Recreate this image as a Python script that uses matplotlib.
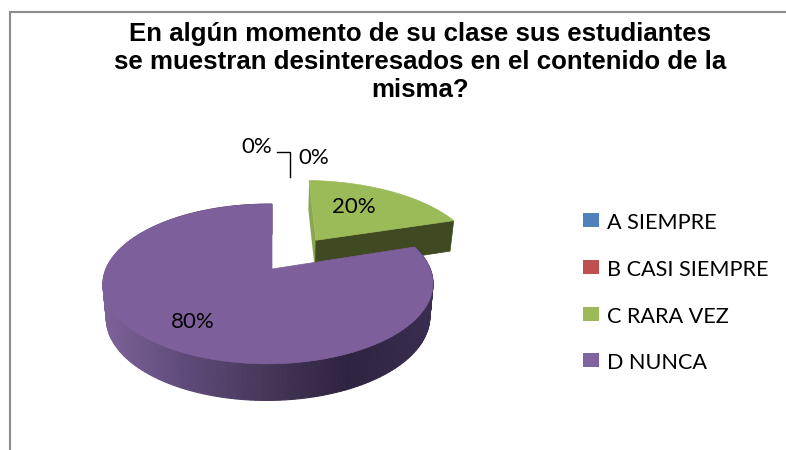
import numpy as np
import matplotlib
matplotlib.use('Agg')
import matplotlib.pyplot as plt
from matplotlib.colors import LinearSegmentedColormap
from matplotlib.patches import Polygon, Rectangle

# datos
categorias = ['A SIEMPRE', 'B CASI SIEMPRE', 'C RARA VEZ', 'D NUNCA']
valores = [0, 0, 20, 80]
etiquetas = ['0%', '0%', '20%', '80%']
separacion = [0, 0, 0.5, 0]
radios = [1, 1, 1.07, 1]
colores = ['#4F81BD', '#C0504D', '#9BBB59', '#8064A2']
titulo = 'En algún momento de su clase sus estudiantes\nse muestran desinteresados en el contenido de la\nmisma?'

# vista del pastel en perspectiva
cx, cy, B, A, k, m = 272, 269, 162, 77, 0.1875, 0.024
prof = 33


def proyecta(u, v, abajo=False):
    s = 1 / (1 + k * v + m * u)
    x = B * u * s
    y = -A * v * s
    if abajo:
        return cx + 0.98 * x, cy + y + prof * np.sqrt(s)
    return cx + x, cy + y


fig = plt.figure(figsize=(7.86, 4.5), dpi=100)
ax = fig.add_axes([0, 0, 1, 1])
ax.set_xlim(0, 786)
ax.set_ylim(450, 0)
ax.axis('off')

# marco del grafico
ax.plot([10, 10, 786], [450, 12, 12], color='#8c8c8c', lw=1.5, solid_joinstyle='miter')

fig.text(420 / 786, 1 - 62 / 450, titulo, ha='center', va='center', family='Liberation Sans',
         weight='bold', fontsize=18.6, linespacing=1.2, color='black')

degradado = LinearSegmentedColormap.from_list('lado', ['#7d6299', '#5f4b7a', '#463758', '#2e2340', '#3a2d50'])
lado_verde = '#3f4a22'
corte_verde = '#8aa64f'

inicio = 0
total = sum(valores)
for val, col, sep, r in zip(valores, colores, separacion, radios):
    if val == 0:
        continue
    fin = inicio + val / total * 2 * np.pi
    medio = (inicio + fin) / 2
    du, dv = sep * np.sin(medio), sep * np.cos(medio)
    t = np.linspace(inicio, fin, 200)
    u = du + r * np.sin(t)
    v = dv + r * np.cos(t)
    cara = np.column_stack(proyecta(np.r_[du, u], np.r_[dv, v]))
    xb, yb = proyecta(u, v, abajo=True)
    xa, ya = proyecta(u, v)
    if val == 20:
        # caras de corte de la porcion separada
        a0 = proyecta(du, dv)
        a1 = proyecta(du, dv, abajo=True)
        ax.add_patch(Polygon([a0, (xa[0], ya[0]), (xb[0], yb[0]), a1], fc=corte_verde, ec='none'))
        ax.add_patch(Polygon([a0, (xa[-1], ya[-1]), (xb[-1], yb[-1]), a1], fc=lado_verde, ec=lado_verde, lw=0.5))
    else:
        # borde exterior con degradado
        for i in range(len(t) - 1):
            c = degradado(np.clip((xa[i] - 102) / 332, 0, 1))
            ax.add_patch(Polygon([(xa[i], ya[i]), (xa[i + 1], ya[i + 1]), (xb[i + 1], yb[i + 1]), (xb[i], yb[i])],
                                 fc=c, ec=c, lw=0.8))
    cara_col = '#7D5F9B' if val == 80 else col
    ax.add_patch(Polygon(cara, fc=cara_col, ec=cara_col, lw=0.5))
    inicio = fin

# lineas guia y etiquetas
ax.plot([277, 290, 290], [152, 152, 177], color='black', lw=1, solid_joinstyle='miter')
pos_etq = [(257, 147), (314, 158), (354, 207), (193, 322)]
for txt, (x, y) in zip(etiquetas, pos_etq):
    ax.text(x, y, txt, ha='center', va='center', family='Lato', fontsize=16, color='black')

# leyenda
ley_y = [220, 267, 314, 360]
for cat, col, y in zip(categorias, colores, ley_y):
    ax.add_patch(Rectangle((583, y - 7), 16, 14, fc=col, ec='none'))
    ax.text(607, y + 3, cat, ha='left', va='center', family='Lato', fontsize=15.6, color='black')

fig.savefig('out.png', dpi=100)
